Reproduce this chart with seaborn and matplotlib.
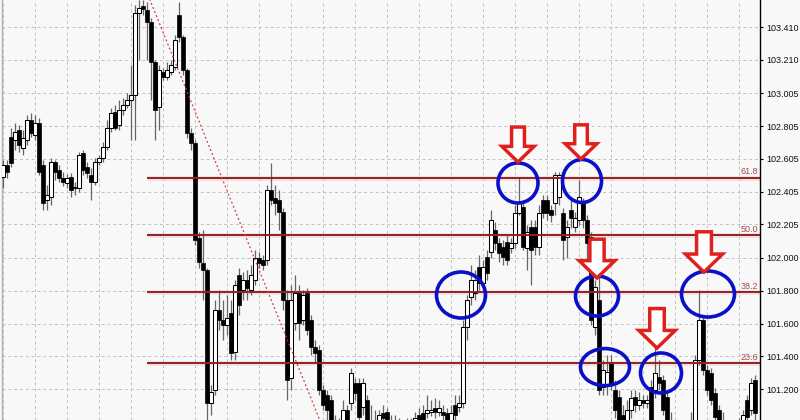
import matplotlib
matplotlib.use("Agg")
import matplotlib.pyplot as plt
import matplotlib.transforms as mtransforms
from matplotlib.patches import Ellipse, Polygon
import pandas as pd
import seaborn as sns

# OHLC bars (USD/JPY style quotes) left to right
opens = [
    102.494, 102.567, 102.738, 102.720, 102.781, 102.671, 102.720, 102.842, 102.750, 102.824,
    102.567, 102.354, 102.372, 102.586, 102.537, 102.488, 102.458, 102.494, 102.433, 102.427,
    102.641, 102.555, 102.506, 102.464, 102.586, 102.610, 102.677, 102.793, 102.891, 102.811,
    102.903, 102.934, 102.965, 102.995, 103.496, 103.538, 103.514, 103.441, 103.197, 102.922,
    103.135, 103.105, 103.135, 103.166, 103.483, 103.349, 103.148, 102.763, 102.702, 102.122,
    101.970, 101.927, 101.115, 101.194, 101.682, 101.621, 101.591, 101.664, 101.426, 101.896,
    101.805, 101.866, 101.805, 101.866, 102.000, 101.988, 101.988, 102.415, 102.366, 102.354,
    102.281, 101.744, 101.267, 101.603, 101.786, 101.621, 101.786, 101.621, 101.456, 101.438,
    101.194, 101.164, 101.133, 100.980, 100.889, 100.980, 101.072, 101.115, 101.237, 101.237,
    101.090, 101.133, 101.011, 100.950, 100.980, 101.054, 101.060, 101.011, 100.950, 100.980,
    100.919, 100.962, 100.938, 100.980, 101.041, 101.054, 101.054, 101.060, 101.084, 101.060,
    101.060, 101.054, 101.011, 101.102, 101.090, 101.115, 101.579, 101.762, 101.786, 101.945,
    101.848, 102.006, 102.037, 102.171, 102.092, 102.067, 102.098, 102.061, 102.092, 102.275,
    102.311, 102.061, 102.189, 102.189, 102.067, 102.354, 102.354, 102.293, 102.336, 102.372,
    102.275, 102.128, 102.293, 102.189, 102.232, 102.336, 102.232, 102.128, 101.579, 101.744,
    101.212, 101.225, 101.359, 101.194, 101.151, 101.041, 101.011, 101.072, 101.151, 101.102,
    101.133, 101.115, 101.212, 101.194, 101.273, 101.255, 101.151, 101.011, 100.950, 100.889,
    100.938, 100.889, 100.950, 101.011, 101.377, 101.621, 101.316, 101.298, 101.176, 101.072,
    101.011, 100.919, 100.962, 100.913, 100.938, 100.980, 101.133, 101.072, 101.255,
]
highs = [
    102.598, 102.598, 102.793, 102.824, 102.811, 102.781, 102.873, 102.885, 102.873, 102.855,
    102.598, 102.446, 102.610, 102.598, 102.567, 102.525, 102.513, 102.519, 102.464, 102.647,
    102.659, 102.586, 102.549, 102.610, 102.628, 102.708, 102.842, 102.916, 102.934, 102.965,
    102.977, 103.008, 103.178, 103.544, 103.575, 103.575, 103.563, 103.465, 103.209, 103.178,
    103.160, 103.197, 103.209, 103.361, 103.563, 103.361, 103.160, 102.793, 102.720, 102.159,
    102.171, 101.939, 101.225, 101.744, 101.805, 101.744, 101.775, 101.744, 101.866, 101.939,
    101.915, 101.927, 101.958, 102.049, 102.037, 102.018, 102.446, 102.580, 102.446, 102.415,
    102.305, 101.805, 101.835, 101.896, 101.835, 101.805, 101.817, 101.652, 101.499, 101.469,
    101.225, 101.194, 101.164, 101.041, 101.023, 101.133, 101.102, 101.328, 101.267, 101.267,
    101.267, 101.164, 101.102, 101.072, 101.072, 101.102, 101.084, 101.041, 101.041, 101.023,
    101.011, 101.023, 101.023, 101.060, 101.084, 101.102, 101.164, 101.133, 101.145, 101.133,
    101.102, 101.084, 101.102, 101.164, 101.164, 101.621, 101.775, 101.958, 101.927, 102.018,
    101.988, 102.049, 102.293, 102.220, 102.122, 102.110, 102.140, 102.122, 102.323, 102.494,
    102.354, 102.201, 102.232, 102.232, 102.323, 102.384, 102.384, 102.323, 102.525, 102.525,
    102.305, 102.232, 102.354, 102.281, 102.476, 102.366, 102.262, 102.159, 101.866, 101.927,
    101.377, 101.408, 101.408, 101.255, 101.194, 101.102, 101.133, 101.194, 101.194, 101.182,
    101.164, 101.164, 101.255, 101.518, 101.377, 101.286, 101.194, 101.060, 101.011, 100.980,
    100.980, 100.980, 101.060, 101.408, 101.805, 101.652, 101.346, 101.328, 101.206, 101.102,
    101.060, 101.011, 100.999, 100.980, 101.023, 101.072, 101.164, 101.267, 101.286,
]
lows = [
    102.427, 102.488, 102.555, 102.659, 102.647, 102.628, 102.690, 102.738, 102.720, 102.506,
    102.293, 102.293, 102.323, 102.476, 102.464, 102.439, 102.427, 102.372, 102.384, 102.403,
    102.506, 102.488, 102.354, 102.446, 102.567, 102.586, 102.659, 102.769, 102.781, 102.781,
    102.873, 102.916, 102.720, 102.720, 103.209, 103.483, 103.209, 102.965, 102.720, 102.781,
    103.087, 103.087, 103.117, 103.148, 103.319, 103.117, 102.732, 102.659, 102.079, 101.939,
    101.744, 101.011, 101.041, 101.164, 101.560, 101.499, 101.530, 101.377, 101.377, 101.652,
    101.744, 101.744, 101.775, 101.835, 101.939, 101.927, 101.958, 102.323, 102.262, 102.171,
    101.682, 101.133, 101.194, 101.560, 101.499, 101.591, 101.530, 101.408, 101.365, 101.164,
    101.072, 101.011, 100.919, 100.858, 100.828, 100.950, 100.962, 101.072, 101.133, 100.980,
    101.041, 100.950, 100.889, 100.889, 100.938, 100.980, 100.950, 100.919, 100.889, 100.889,
    100.858, 100.889, 100.889, 100.950, 100.962, 100.962, 101.023, 101.035, 101.023, 101.035,
    101.011, 100.980, 100.980, 101.011, 101.060, 101.084, 101.499, 101.713, 101.744, 101.805,
    101.805, 101.866, 102.000, 102.049, 101.976, 101.958, 101.958, 102.031, 102.061, 102.262,
    102.049, 101.927, 101.835, 102.018, 102.018, 102.244, 102.232, 102.220, 102.262, 102.323,
    101.988, 102.000, 102.183, 102.159, 102.201, 102.183, 101.988, 101.591, 101.530, 101.164,
    101.164, 101.164, 101.194, 101.023, 100.962, 100.938, 100.950, 101.023, 101.060, 101.072,
    101.084, 101.084, 100.980, 101.145, 101.194, 101.041, 100.962, 100.889, 100.828, 100.828,
    100.840, 100.858, 100.901, 100.962, 101.346, 101.286, 101.164, 101.102, 100.999, 100.962,
    100.889, 100.877, 100.858, 100.877, 100.889, 100.950, 100.999, 101.041, 101.011,
]
closes = [
    102.567, 102.525, 102.580, 102.769, 102.690, 102.732, 102.842, 102.763, 102.824, 102.525,
    102.336, 102.384, 102.586, 102.525, 102.488, 102.464, 102.488, 102.415, 102.427, 102.628,
    102.537, 102.519, 102.464, 102.586, 102.610, 102.677, 102.793, 102.885, 102.793, 102.903,
    102.934, 102.965, 102.995, 103.496, 103.526, 103.520, 103.441, 103.197, 102.903, 103.148,
    103.105, 103.148, 103.178, 103.331, 103.349, 103.148, 102.763, 102.702, 102.110, 101.976,
    101.927, 101.115, 101.182, 101.682, 101.621, 101.591, 101.633, 101.420, 101.835, 101.713,
    101.866, 101.817, 101.896, 102.000, 101.970, 101.958, 102.415, 102.354, 102.336, 102.281,
    101.744, 101.255, 101.744, 101.786, 101.603, 101.775, 101.560, 101.456, 101.420, 101.194,
    101.102, 101.072, 100.980, 100.919, 100.980, 101.072, 101.011, 101.298, 101.176, 101.029,
    101.237, 101.011, 100.950, 101.011, 101.041, 101.023, 101.011, 100.962, 100.999, 100.938,
    100.962, 100.932, 100.980, 101.023, 101.011, 101.011, 101.072, 101.072, 101.060, 101.084,
    101.041, 101.011, 101.054, 101.041, 101.115, 101.579, 101.744, 101.866, 101.866, 101.848,
    101.945, 101.909, 102.232, 102.092, 102.031, 102.006, 101.988, 102.092, 102.275, 102.336,
    102.067, 102.159, 102.049, 102.067, 102.275, 102.275, 102.275, 102.262, 102.506, 102.506,
    102.110, 102.189, 102.244, 102.244, 102.372, 102.232, 102.092, 101.621, 101.823, 101.194,
    101.316, 101.304, 101.237, 101.072, 101.011, 100.980, 101.072, 101.145, 101.102, 101.133,
    101.115, 101.133, 101.011, 101.298, 101.237, 101.072, 101.011, 100.950, 100.889, 100.938,
    100.889, 100.950, 101.011, 101.377, 101.621, 101.316, 101.194, 101.133, 101.029, 101.011,
    100.938, 100.962, 100.913, 100.950, 100.980, 101.041, 101.029, 101.237, 101.054,
]

price_ticks = [103.410, 103.210, 103.005, 102.805, 102.605, 102.405,
               102.205, 102.000, 101.800, 101.600, 101.400, 101.200]

# fibonacci retracement drawn from the swing high to the swing low
fib_levels = [61.8, 50.0, 38.2, 23.6]
fib_high, fib_low = 103.62, 100.66
fib_start, fib_end = 36, 85

# annotations: (bar, price)
circle_spots = [(128.75, 102.458), (144.75, 102.470), (114.5, 101.774), (148.5, 101.768),
                (150.5, 101.334), (164.5, 101.298), (176.25, 101.780)]
circle_px = [(40, 40), (39, 43), (49, 46), (43, 40), (49, 37), (41, 40), (53, 46)]
arrow_tips = [(128.75, 102.586), (144.5, 102.604), (148.5, 101.878),
              (163.5, 101.450), (175.25, 101.914)]
arrow_scale = [0.92, 0.9, 1.02, 1.04, 1.06]

df = pd.DataFrame({"open": opens, "high": highs, "low": lows, "close": closes})
df["bar"] = range(len(df))
bull = df[df.close >= df.open]
bear = df[df.close < df.open]

sns.set_style("whitegrid")
plt.rcParams["font.family"] = ["Liberation Sans", "DejaVu Sans"]

bg = "#f8f8f8"
fig = plt.figure(figsize=(8, 4.2), dpi=100, facecolor=bg)
ax = fig.add_axes([2 / 800, 0, 758 / 800, 1])
ax.set_facecolor(bg)
ax.set_xlim(-0.25, 189.25)
ax.set_ylim(101.011, 103.575)

# grid
ax.set_xticks(range(0, 189, 8))
ax.set_yticks(price_ticks)
ax.grid(True, color="#c0c0c0", linestyle=(0, (3, 3)), linewidth=0.7)
ax.tick_params(axis="x", length=0, labelbottom=False)
ax.yaxis.tick_right()
ax.set_yticklabels([f"{p:.3f}" for p in price_ticks])
ax.tick_params(axis="y", right=True, length=2.5, width=0.8, color="black",
               pad=2, labelsize=6.5, labelcolor="#111111")
for side in ["top", "bottom"]:
    ax.spines[side].set_visible(False)
ax.spines["right"].set_color("black")
ax.spines["right"].set_linewidth(1.0)
ax.spines["left"].set_color("#b0b0b0")
ax.spines["left"].set_linewidth(1.0)

# candles
ax.vlines(df.bar, df.low, df.high, color="#666666", linewidth=0.9, zorder=3)
ax.bar(bull.bar, bull.close - bull.open, bottom=bull.open, width=0.8,
       color="white", edgecolor="black", linewidth=0.75, zorder=4)
ax.bar(bear.bar, bear.open - bear.close, bottom=bear.close, width=0.8,
       color="black", edgecolor="black", linewidth=0.5, zorder=4)

# fib levels
for lvl in fib_levels:
    price = fib_low + lvl / 100 * (fib_high - fib_low)
    ax.hlines(price, fib_start, 189.25, color="#f3cccc", linewidth=3.4, alpha=0.6, zorder=2)
    ax.hlines(price, fib_start, 189.25, color="#8f2222", linewidth=1.4, zorder=5)
    ax.annotate(f"{lvl:.1f}", (188.9, price), xytext=(0, 1), textcoords="offset points",
                ha="right", va="bottom", fontsize=6.5, color="#a34a4a", zorder=6)

# trend line of the swing
sns.lineplot(x=[fib_start, fib_end], y=[fib_high, fib_low], ax=ax, color="#d83a3a",
             linewidth=0.9, linestyle=(0, (1.5, 2)), zorder=5)

# blue circles
for (bx, py), (w, h) in zip(circle_spots, circle_px):
    tr = fig.dpi_scale_trans + mtransforms.ScaledTranslation(bx, py, ax.transData)
    ax.add_patch(Ellipse((0, 0), w / 100, h / 100, transform=tr, fill=False,
                         edgecolor="#0a10c8", linewidth=2.6, zorder=7, clip_on=False))

# red hollow arrows pointing down
for (bx, py), s in zip(arrow_tips, arrow_scale):
    tr = fig.dpi_scale_trans + mtransforms.ScaledTranslation(bx, py, ax.transData)
    H, sw, hw, hh = 38 * s, 7 * s, 17.5 * s, 17 * s
    pts = [(-sw, H), (sw, H), (sw, hh), (hw, hh), (0, 0), (-hw, hh), (-sw, hh)]
    ax.add_patch(Polygon([(x / 100, y / 100) for x, y in pts], closed=True, transform=tr,
                         facecolor="white", edgecolor="#e0201c", linewidth=2.5,
                         joinstyle="miter", zorder=8, clip_on=False))

ax.set_xlabel("")
ax.set_ylabel("")
fig.savefig("out.png", dpi=100, facecolor=bg)
